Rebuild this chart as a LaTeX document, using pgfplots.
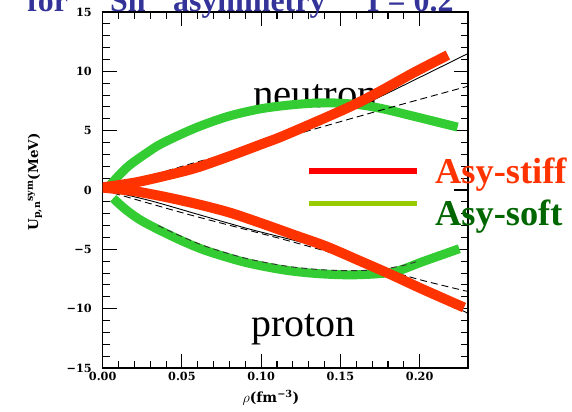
\documentclass[border=0pt]{standalone}
\usepackage{fontspec}
\setmainfont{Liberation Serif}
\newfontfamily\dvs{DejaVu Serif}
\usepackage{pgfplots}
\pgfplotsset{compat=1.18}

\definecolor{stiffred}{HTML}{FF3300}
\definecolor{softgreen}{HTML}{33CC33}
\definecolor{legred}{HTML}{FF0000}
\definecolor{leggreen}{HTML}{99CC00}
\definecolor{titleblue}{HTML}{333399}
\definecolor{softtext}{HTML}{006600}

\begin{document}
\begin{tikzpicture}
\path[use as bounding box] (-102.7bp,-44bp) rectangle (469.3bp,368bp);
\begin{axis}[
  at={(0bp,0bp)}, anchor=south west,
  scale only axis, width=365.3bp, height=356bp,
  xmin=0, xmax=0.2305, ymin=-15, ymax=15,
  clip mode=individual,
  xtick={0,0.05,0.1,0.15,0.2},
  xticklabels={0.00,0.05,0.10,0.15,0.20},
  ytick={-15,-10,-5,0,5,10,15},
  yticklabels={−15,−10,−5,0,5,10,15},
  minor x tick num=4, minor y tick num=4,
  tick align=inside,
  major tick length=14bp, minor tick length=7bp,
  every tick/.style={black, line width=1.1bp},
  axis line style={line width=1.4bp},
  tick label style={font=\dvs\bfseries\fontsize{11.3}{11.3}\selectfont},
  yticklabel style={xshift=-7.5bp},
  xticklabel style={yshift=-1bp},
  xlabel={\dvs\bfseries$\rho$(fm\textsuperscript{−3})},
  xlabel style={at={(axis description cs:0.4607,-0.0843)}, anchor=center,
    font=\fontsize{14}{14}\selectfont},
  ylabel={\dvs\bfseries U\textsubscript{p,n}\textsuperscript{sym}(MeV)},
  ylabel style={at={(axis description cs:-0.1853,0.5225)}, anchor=center,
    font=\fontsize{13.5}{13.5}\selectfont},
]

% region labels
\node[anchor=base west, font=\fontsize{41}{41}\selectfont] at (axis cs:0.0928,6.91) {neutron};
\node[anchor=base west, font=\fontsize{40}{40}\selectfont] at (axis cs:0.0918,-12.36) {proton};

% Asy-soft potentials
\addplot[softgreen, line width=9bp, smooth] coordinates {
  (0.004,0.3) (0.01,1.2) (0.017,2.1) (0.027,3.05) (0.037,3.9) (0.058,5.2)
  (0.079,6.2) (0.1,6.85) (0.121,7.2) (0.141,7.35) (0.161,7.2) (0.1765,6.85)
  (0.1967,6.2) (0.2239,5.3)
};
\addplot[softgreen, line width=9bp, smooth] coordinates {
  (0.0066,-0.7) (0.015,-1.7) (0.026,-2.7) (0.047,-4.1) (0.065,-5.1) (0.09,-6.1)
  (0.115,-6.75) (0.136,-7.05) (0.156,-7.15) (0.1745,-7.05) (0.1866,-6.8)
  (0.2017,-6.05) (0.225,-4.95)
};

% microscopic results (thin black)
\addplot[black!80, line width=0.9bp, dash pattern=on 6bp off 4bp, smooth] coordinates {
  (0.035,-3.0) (0.047,-3.75) (0.065,-4.75) (0.09,-5.75) (0.115,-6.4)
  (0.136,-6.7) (0.156,-6.8) (0.1745,-6.7) (0.19,-6.35) (0.2,-5.95)
};
\addplot[black, line width=0.9bp, smooth] coordinates {
  (0,0.1) (0.03,0.9) (0.06,2.0) (0.09,3.3) (0.121,4.75) (0.151,6.35)
  (0.1765,7.95) (0.2017,9.6) (0.232,11.6)
};
\addplot[black, line width=0.9bp, smooth] coordinates {
  (0,0.05) (0.03,-0.9) (0.06,-2.05) (0.09,-3.2) (0.112,-3.95) (0.131,-4.6)
  (0.1538,-5.5) (0.1664,-6.2) (0.1815,-7.15) (0.2017,-8.45) (0.232,-10.5)
};
\addplot[black, line width=0.9bp, dash pattern=on 7bp off 4bp, smooth] coordinates {
  (0,0.1) (0.03,1.2) (0.058,2.3) (0.09,3.45) (0.1327,5.1) (0.1815,6.95) (0.232,8.8)
};
\addplot[black, line width=0.9bp, dash pattern=on 7bp off 4bp, smooth] coordinates {
  (0,0.0) (0.03,-1.15) (0.058,-2.2) (0.115,-4.2) (0.151,-5.55) (0.1957,-7.4) (0.232,-8.6)
};

% Asy-stiff potentials
\addplot[stiffred, line width=10bp, smooth] coordinates {
  (0,0.22) (0.02,0.62) (0.037,1.12) (0.058,1.83) (0.079,2.8) (0.1,3.85)
  (0.115,4.62) (0.1538,6.88) (0.1745,8.28) (0.1957,9.85) (0.2178,11.37)
};
\addplot[stiffred, line width=10bp, smooth] coordinates {
  (0,0.2) (0.02,-0.1) (0.04,-0.6) (0.06,-1.2) (0.08,-1.9) (0.1,-2.8)
  (0.121,-3.8) (0.141,-4.75) (0.161,-5.9) (0.1815,-7.1) (0.2017,-8.35) (0.228,-9.9)
};

% key
\draw[legred, line width=6bp] (axis cs:0.130,1.64) -- (axis cs:0.1981,1.64);
\draw[leggreen, line width=4.5bp] (axis cs:0.130,-1.14) -- (axis cs:0.1981,-1.14);
\node[anchor=base west, text=stiffred, font=\bfseries\fontsize{36.5}{36.5}\selectfont]
  at (axis cs:0.2076,0.56) {Asy-stiff};
\node[anchor=base west, text=softtext, font=\bfseries\fontsize{36.5}{36.5}\selectfont]
  at (axis cs:0.2076,-3.03) {Asy-soft};
\end{axis}

% heading
\begin{scope}[every node/.style={anchor=base west, text=titleblue,
    font=\bfseries\fontsize{32}{32}\selectfont, inner sep=0pt}]
  \node at (-75.7bp,356.5bp) {for};
  \node[anchor=base east, font=\bfseries\fontsize{20}{20}\selectfont] at (6.3bp,368.5bp) {132};
  \node at (7.3bp,356.5bp) {Sn};
  \node at (70.3bp,356.5bp) {asymmetry};
  \node at (264.3bp,356.5bp) {I = 0.2};
\end{scope}
\end{tikzpicture}
\end{document}
